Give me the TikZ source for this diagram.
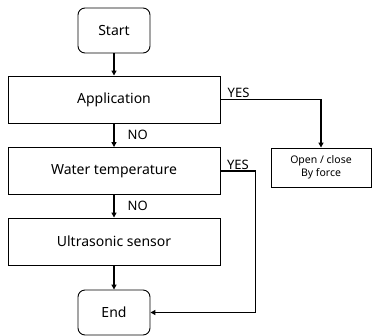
\documentclass[tikz,border=0pt]{standalone}
\usepackage{fontspec}
\setmainfont{Noto Sans}
\usetikzlibrary{arrows.meta, positioning}
\tikzset{
  flowbox/.style={draw, line width=0.9pt, minimum width=212pt, minimum height=47pt, inner sep=0pt, font=\fontsize{14}{16}\selectfont},
  termbox/.style={draw, line width=0.9pt, rounded corners=7pt, minimum width=72pt, minimum height=45pt, inner sep=0pt, font=\fontsize{14}{16}\selectfont},
  sidebox/.style={draw, line width=0.9pt, minimum width=100pt, minimum height=39pt, inner sep=0pt, align=center, font=\fontsize{10.5}{13}\selectfont},
  flowarrow/.style={-{Triangle[length=5pt, width=5pt]}, line width=1.4pt},
  answer/.style={font=\fontsize{13}{15}\selectfont, inner sep=1pt}
}
\begin{document}
\begin{tikzpicture}[x=1pt, y=-1pt]
  \useasboundingbox (0,0) rectangle (372,335);

  % Terminals
  \node[termbox] (start) at (114, 30.5) {Start};
  \node[termbox] (end) at (114, 312.5) {End};

  % Checks
  \node[flowbox] (app) at (114, 99.5) {Application};
  \node[flowbox] (water) at (114, 171) {Water temperature};
  \node[flowbox] (ultra) at (114, 241.5) {Ultrasonic sensor};

  % Forced action
  \node[sidebox] (force) at (321, 167.5) {Open / close\\By force};

  % Main line
  \draw[flowarrow] (start) -- (app);
  \draw[flowarrow] (app) -- node[answer, right=12pt] {NO} (water);
  \draw[flowarrow] (water) -- node[answer, right=12pt] {NO} (ultra);
  \draw[flowarrow] (ultra) -- (end);

  % YES branches
  \draw[flowarrow] (app.east) -- node[answer, above, pos=0.18] {YES} (app.east -| force.north) -- (force.north);
  \draw[flowarrow] (water.east) -- node[answer, above, pos=0.5] {YES} ++(35,0) |- (end.east);
\end{tikzpicture}
\end{document}
